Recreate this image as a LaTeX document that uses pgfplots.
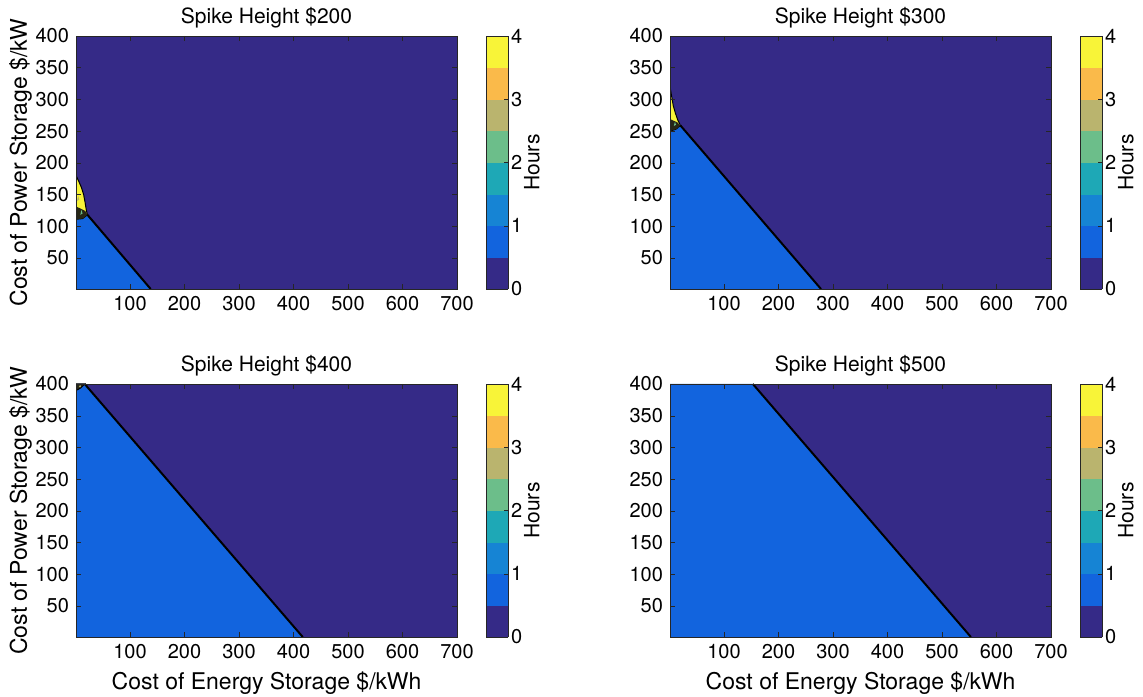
\documentclass[border=0pt]{standalone}
\usepackage{fontspec}
\setmainfont{TeX Gyre Heros}
\usepackage{pgfplots}
\pgfplotsset{compat=1.18}

\definecolor{c0}{RGB}{53,42,135}
\definecolor{c1}{RGB}{18,100,222}
\definecolor{dk}{RGB}{38,38,22}
\definecolor{yl}{RGB}{248,244,56}
\definecolor{gr}{RGB}{106,190,138}
\definecolor{ol}{RGB}{186,180,110}
\definecolor{axc}{RGB}{38,38,38}

\pgfplotsset{
 mystyle/.style={
  scale only axis, width=190.5pt, height=126.5pt,
  xmin=1,xmax=700,ymin=1,ymax=400,
  xtick={100,200,...,700}, ytick={50,100,...,400},
  tick align=inside, major tick length=2.5pt,
  axis line style={draw=axc},
  tick style={axc},
  ticklabel style={font=\fontsize{10}{12}\selectfont},
  /pgf/number format/assume math mode=true,
  title style={font=\fontsize{10.5}{12}\selectfont, yshift=-5.5pt},
  label style={font=\fontsize{11.5}{13}\selectfont},
  ylabel shift=-5pt,
  axis on top,
  colormap={hours}{rgb255=(53,42,135) rgb255=(18,100,222) rgb255=(22,132,212) rgb255=(30,168,182) rgb255=(108,190,138) rgb255=(186,180,110) rgb255=(250,186,74) rgb255=(248,244,56)},
  colormap access=piecewise constant,
  colorbar, point meta min=0, point meta max=4,
  colorbar style={at={(parent axis.north east)}, anchor=north west, xshift=6pt,
    width=11pt, ytick={0,1,2,3,4}, yticklabel pos=right, ytick pos=right,
    tick align=inside, major tick length=2pt,
    yticklabel style={xshift=-2pt},
    ylabel=Hours,
    ylabel style={at={(rel axis cs:1,0.5)}, anchor=north, yshift=-4.5pt, font=\fontsize{10.5}{12}\selectfont},
    axis line style={draw=axc}, tick style={axc},
    ticklabel style={font=\fontsize{10}{12}\selectfont},
    /pgf/number format/assume math mode=true},
 }
}

\begin{document}
\begin{tikzpicture}
\path[use as bounding box] (0,0) rectangle (571.5pt,348pt);

% Top-left: Spike Height $200
\begin{axis}[mystyle, at={(38pt,203.5pt)}, anchor=south west,
  title={Spike Height \$200}, ylabel={Cost of Power Storage \$/kW}]
\addplot[fill=c0, draw=none] coordinates {(1,1)(700,1)(700,400)(1,400)} -- cycle;
\addplot[fill=c1, draw=none] coordinates {(1,1)(138,1)(20,118)(1,118)} -- cycle;
\addplot[fill=yl, draw=black, line width=0.5pt] coordinates {(1,180)(6,171)(11,161)(15,150)(18,136)(20,125)(22,118)(13,112)(1,111)} -- cycle;
\addplot[fill=dk, draw=none] coordinates {(1,111)(13,112)(22,118)(18,124)(9,128)(1,131)} -- cycle;
\addplot[fill=gr, draw=none] coordinates {(9,118)(13,120)(11,126)} -- cycle;
\addplot[fill=ol, draw=none] coordinates {(3,140)(7,142)(5,148)} -- cycle;
\addplot[black, line width=1pt] coordinates {(22,118)(138,1)};
\end{axis}

% Top-right: Spike Height $300
\begin{axis}[mystyle, at={(335pt,203.5pt)}, anchor=south west,
  title={Spike Height \$300}]
\addplot[fill=c0, draw=none] coordinates {(1,1)(700,1)(700,400)(1,400)} -- cycle;
\addplot[fill=c1, draw=none] coordinates {(1,1)(278,1)(20,259)(1,259)} -- cycle;
\addplot[fill=yl, draw=black, line width=0.5pt] coordinates {(1,320)(4,305)(7,290)(11,278)(15,268)(20,259)(12,253)(1,250)} -- cycle;
\addplot[fill=dk, draw=none] coordinates {(1,250)(12,253)(20,259)(14,264)(6,267)(1,269)} -- cycle;
\addplot[fill=gr, draw=none] coordinates {(8,258)(12,260)(10,265)} -- cycle;
\addplot[black, line width=1pt] coordinates {(20,259)(278,1)};
\end{axis}

% Bottom-left: Spike Height $400
\begin{axis}[mystyle, at={(38pt,29.5pt)}, anchor=south west,
  title={Spike Height \$400}, ylabel={Cost of Power Storage \$/kW},
  xlabel={Cost of Energy Storage \$/kWh}]
\addplot[fill=c0, draw=none] coordinates {(1,1)(700,1)(700,400)(1,400)} -- cycle;
\addplot[fill=c1, draw=none] coordinates {(1,1)(417,1)(17,400)(1,400)} -- cycle;
\addplot[fill=dk, draw=black, line width=0.5pt] coordinates {(1,400)(17,400)(10,394)(4,391)(1,390)} -- cycle;
\addplot[fill=ol, draw=none] coordinates {(6,395)(9,399)(10,395)} -- cycle;
\addplot[black, line width=1pt] coordinates {(17,400)(417,1)};
\end{axis}

% Bottom-right: Spike Height $500
\begin{axis}[mystyle, at={(335pt,29.5pt)}, anchor=south west,
  title={Spike Height \$500}, xlabel={Cost of Energy Storage \$/kWh}]
\addplot[fill=c0, draw=none] coordinates {(1,1)(700,1)(700,400)(1,400)} -- cycle;
\addplot[fill=c1, draw=none] coordinates {(1,1)(553,1)(153,400)(1,400)} -- cycle;
\addplot[black, line width=1pt] coordinates {(153,400)(553,1)};
\end{axis}
\end{tikzpicture}
\end{document}
